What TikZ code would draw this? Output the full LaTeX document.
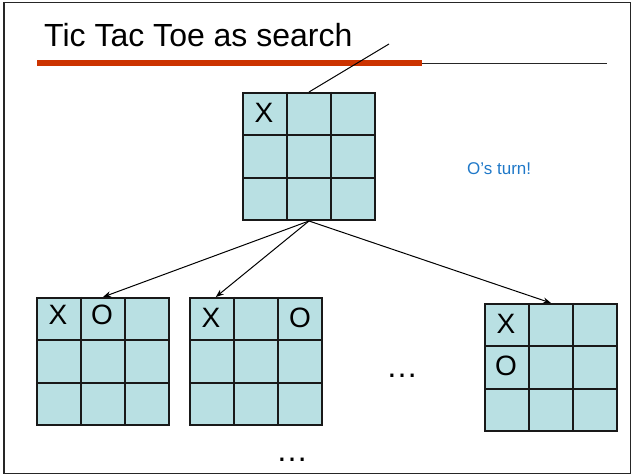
\documentclass[tikz,border=0pt]{standalone}
\usepackage{fontspec}
\setmainfont{Liberation Sans}
\usetikzlibrary{calc,arrows.meta}

\definecolor{cellfill}{RGB}{185,224,227}
\definecolor{titlered}{RGB}{204,51,0}
\definecolor{noteblue}{RGB}{31,120,200}

% inner lines of a 3x3 board node
\newcommand\boardgrid[1]{%
  \draw[gridline] ($(#1.north west)!1/3!(#1.north east)$) -- ($(#1.south west)!1/3!(#1.south east)$);
  \draw[gridline] ($(#1.north west)!2/3!(#1.north east)$) -- ($(#1.south west)!2/3!(#1.south east)$);
  \draw[gridline] ($(#1.north west)!1/3!(#1.south west)$) -- ($(#1.north east)!1/3!(#1.south east)$);
  \draw[gridline] ($(#1.north west)!2/3!(#1.south west)$) -- ($(#1.north east)!2/3!(#1.south east)$);
}

\begin{document}
\begin{tikzpicture}[x=1pt,y=-1pt,
  board/.style={draw=black!90, line width=2pt, fill=cellfill,
    minimum width=132pt, minimum height=127pt, inner sep=0pt, anchor=north west},
  gridline/.style={draw=black!90, line width=1.8pt},
  cellmark/.style={font=\fontsize{28}{28}\selectfont, inner sep=0pt},
  move/.style={-{Stealth[length=8pt,width=6pt]}, line width=1pt},
  dots/.style={font=\fontsize{32}{32}\selectfont, inner sep=0pt, anchor=base}
]
\useasboundingbox (0,0) rectangle (633,476);

% slide frame
\draw[line width=1.5pt, black!85] (4,2.5) rectangle (630.5,473.5);

% title and rule
\node[anchor=base west, inner sep=0pt, font=\fontsize{32}{32}\selectfont] (title) at (44,47) {Tic Tac Toe as search};
\draw[titlered, line width=6pt] (37,63.5) -- (422,63.5);
\draw[black!85, line width=1.5pt] (422,63.5) -- (607,63.5);

% boards
\node[board] (g0) at (242,92) {};
\node[board] (g1) at (36,297) {};
\node[board] (g2) at (189,297) {};
\node[board] (g3) at (484,303) {};
\boardgrid{g0}
\boardgrid{g1}
\boardgrid{g2}
\boardgrid{g3}

% marks
\node[cellmark] (g0x) at ($(g0.north west)+(22,21)$) {X};
\node[cellmark] (g1x) at ($(g1.north west)+(22,18)$) {X};
\node[cellmark] (g1o) at ($(g1.north west)+(66,18)$) {O};
\node[cellmark] (g2x) at ($(g2.north west)+(22,21)$) {X};
\node[cellmark] (g2o) at ($(g2.north west)+(111,21)$) {O};
\node[cellmark] (g3x) at ($(g3.north west)+(22,21)$) {X};
\node[cellmark] (g3o) at ($(g3.north west)+(22,63)$) {O};

% line from the root board up through the title rule
\coordinate (rootlink) at (389,44);
\draw[line width=1pt] (g0.north) -- (rootlink);

% moves
\coordinate (g2in) at ($(g2.north west)!0.2!(g2.north east)$);
\draw[move] (g0.south) -- (g1.north);
\draw[move] (g0.south) -- (g2in);
\draw[move] (g0.south) -- (g3.north);

% annotation and ellipses
\node[anchor=base west, inner sep=0pt, text=noteblue, font=\fontsize{17}{17}\selectfont] (turn) at (467,175) {O’s turn!};
\node[dots] (more1) at (402,377.5) {…};
\node[dots] (more2) at (292,461.5) {…};
\end{tikzpicture}
\end{document}
